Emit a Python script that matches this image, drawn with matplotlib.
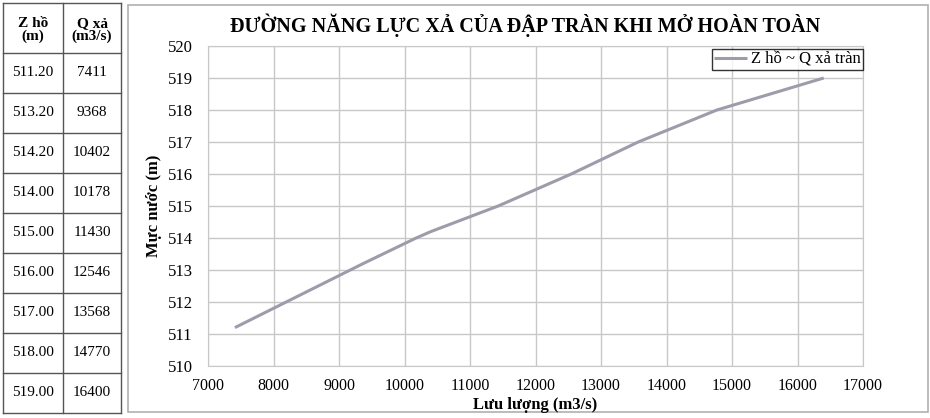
import numpy as np
import matplotlib
matplotlib.use("Agg")
import matplotlib.pyplot as plt
from matplotlib.patches import Rectangle

plt.rcParams['font.family'] = ['Liberation Serif', 'DejaVu Serif']

# Data from the table (Z ho in m, Q xa in m3/s)
z_ho = [511.20, 513.20, 514.20, 514.00, 515.00, 516.00, 517.00, 518.00, 519.00]
q_xa = [7411, 9368, 10402, 10178, 11430, 12546, 13568, 14770, 16400]
table_head = ["Z hồ\n(m)", "Q xả\n(m3/s)"]

x_ticks = list(range(7000, 17001, 1000))
y_ticks = list(range(510, 521, 1))

W, H = 930, 418
fig = plt.figure(figsize=(W / 100, H / 100), dpi=100)
fig.patch.set_facecolor("white")

# background axes in pixel coordinates for table + frame
bg = fig.add_axes([0, 0, 1, 1])
bg.set_xlim(0, W)
bg.set_ylim(H, 0)
bg.axis("off")

# chart frame
bg.add_patch(Rectangle((128, 5), 800, 407, fill=False, ec="#b0b0b0", lw=1.2))

# table
tx = [3, 63, 121]
ty = [3, 53] + [53 + 40 * (i + 1) for i in range(len(z_ho))]
for x in tx:
    bg.plot([x, x], [ty[0], ty[-1]], color="#555555", lw=1.0)
for y in ty:
    bg.plot([tx[0], tx[-1]], [y, y], color="#555555", lw=1.0)
for j, h in enumerate(table_head):
    bg.text((tx[j] + tx[j + 1]) / 2, (ty[0] + ty[1]) / 2 + 2, h, ha="center", va="center",
            fontsize=11, fontweight="bold", linespacing=1.0)
for i, (z, q) in enumerate(zip(z_ho, q_xa)):
    yc = (ty[i + 1] + ty[i + 2]) / 2
    bg.text((tx[0] + tx[1]) / 2, yc, f"{z:.2f}", ha="center", va="center", fontsize=11)
    bg.text((tx[1] + tx[2]) / 2, yc, f"{q}", ha="center", va="center", fontsize=11)

# chart
ax = fig.add_axes([208 / W, 1 - 366 / H, 655 / W, 320 / H])
order = np.argsort(q_xa)
ax.plot(np.array(q_xa)[order], np.array(z_ho)[order], color="#9c9cab", lw=2.2,
        label="Z hồ ~ Q xả tràn", solid_capstyle="butt")
ax.set_xlim(7000, 17000)
ax.set_ylim(510, 520)
ax.set_xticks(x_ticks)
ax.set_yticks(y_ticks)
ax.grid(True, color="#c8c8c8", lw=1.0)
ax.tick_params(length=0)
ax.tick_params(axis="x", labelsize=11.5, pad=9)
ax.tick_params(axis="y", labelsize=12, pad=11)
for s in ax.spines.values():
    s.set_color("#c8c8c8")
ax.set_xlabel("Lưu lượng (m3/s)", fontsize=12, fontweight="bold", labelpad=2)
ax.set_ylabel("Mực nước (m)", fontsize=12, fontweight="bold", labelpad=4)

leg = ax.legend(loc="upper right", bbox_to_anchor=(1.0, 0.99), fontsize=12, frameon=True,
                fancybox=False, edgecolor="black", handlelength=2.0, handletextpad=0.2,
                borderpad=0.15, borderaxespad=0.0)
leg.get_frame().set_linewidth(1.0)

fig.text(525 / W, 1 - 25 / H, "ĐƯỜNG NĂNG LỰC XẢ CỦA ĐẬP TRÀN KHI MỞ HOÀN TOÀN",
         ha="center", va="center", fontsize=14.5, fontweight="bold")

fig.savefig("out.png", dpi=100)
